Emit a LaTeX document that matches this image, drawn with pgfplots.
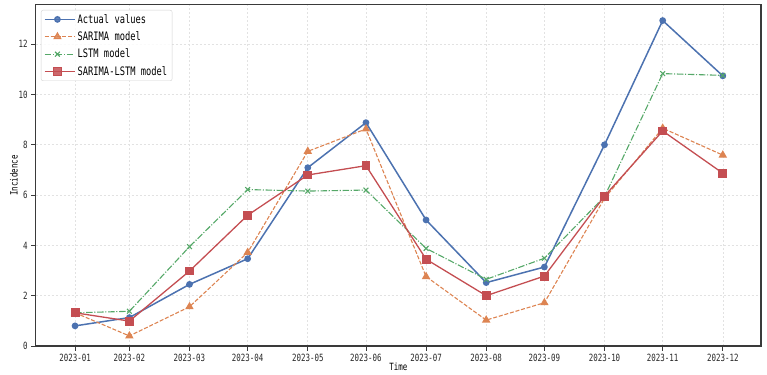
\documentclass[border=0pt]{standalone}
\usepackage{fontspec}
\setmainfont[FakeStretch=0.75]{DejaVu Sans Mono}
\usepackage{pgfplots}
\pgfplotsset{compat=1.18}
\usepackage{pgfplotstable}

\definecolor{cActual}{HTML}{4C72B0}
\definecolor{cSarima}{HTML}{DD8452}
\definecolor{cLstm}{HTML}{55A868}
\definecolor{cHybrid}{HTML}{C44E52}
\definecolor{gridc}{HTML}{E2E2E2}
\definecolor{spine}{HTML}{3A3A3A}

% x = day offset of the month end from 2023-01-31
\pgfplotstableread{
day  actual sarima lstm  hybrid
0    0.80   1.32   1.32  1.32
28   1.13   0.40   1.38  0.99
59   2.45   1.56   3.95  2.98
89   3.47   3.72   6.22  5.20
120  7.09   7.74   6.16  6.80
150  8.88   8.63   6.20  7.17
181  5.01   2.76   3.88  3.45
212  2.52   1.03   2.65  2.00
242  3.14   1.72   3.49  2.78
273  8.00   5.87   5.94  5.96
303  12.94  8.66   10.83 8.55
334  10.74  7.59   10.76 6.87
}\incidence

\begin{document}
\begin{tikzpicture}
\begin{axis}[
  at={(0,0)}, anchor=south west,
  scale only axis, width=725.3bp, height=341.3bp,
  xmin=-20.3, xmax=353.7, ymin=0, ymax=13.57,
  xtick={0,28,59,89,120,150,181,212,242,273,303,334},
  xticklabels={2023-01,2023-02,2023-03,2023-04,2023-05,2023-06,2023-07,2023-08,2023-09,2023-10,2023-11,2023-12},
  ytick={0,2,4,6,8,10,12},
  /pgf/number format/assume math mode=true,
  tick label style={font=\fontsize{10}{11}\selectfont, text=black!85},
  tick align=outside, major tick length=4.5bp,
  tick style={spine, line width=0.8bp},
  xtick pos=bottom, ytick pos=left,
  axis line style={spine, line width=1.1bp},
  grid=major,
  major grid style={gridc, line width=0.6bp, dash pattern=on 2bp off 2bp},
  xlabel={Time}, ylabel={Incidence},
  label style={font=\fontsize{12}{13}\selectfont, text=black!90},
  every axis x label/.style={at={(axis description cs:0.5,0)}, yshift=-21bp, anchor=center},
  every axis y label/.style={at={(axis description cs:0,0.5)}, xshift=-21.7bp, rotate=90, anchor=center},
  legend cell align=left,
  legend style={at={(axis description cs:0.0073,0.9845)}, anchor=north west,
    font=\fontsize{11.7}{13}\selectfont,
    draw=black!18, rounded corners=2bp, fill=white, fill opacity=0.85, text opacity=1,
    inner xsep=3bp, inner ysep=2bp, row sep=3bp},
  legend image code/.code={%
    \draw[mark repeat=2, mark phase=2] plot coordinates {(0bp,0bp) (12.5bp,0bp) (25bp,0bp)};
    \path (0bp,0bp) -- (30bp,0bp);},
]
\addplot[cActual, line width=1.5bp, mark=*, mark size=2.6bp,
  mark options={solid, fill=cActual}] table[x=day, y=actual] {\incidence};
\addlegendentry{Actual values}
\addplot[cSarima, line width=1.1bp, dash pattern=on 4bp off 1.8bp, mark=triangle*, mark size=3.8bp,
  mark options={solid, fill=cSarima}] table[x=day, y=sarima] {\incidence};
\addlegendentry{SARIMA model}
\addplot[cLstm, line width=1.1bp, dash pattern=on 6.5bp off 1.7bp on 1.1bp off 1.7bp, mark=x, mark size=3.4bp,
  mark options={solid}] table[x=day, y=lstm] {\incidence};
\addlegendentry{LSTM model}
\addplot[cHybrid, line width=1.3bp, mark=square*, mark size=3.8bp,
  mark options={solid, fill=cHybrid}] table[x=day, y=hybrid] {\incidence};
\addlegendentry{SARIMA-LSTM model}
\end{axis}
\pgfresetboundingbox
\path[use as bounding box] (-35.7bp,-29bp) rectangle (731.3bp,346bp);
\end{tikzpicture}
\end{document}
